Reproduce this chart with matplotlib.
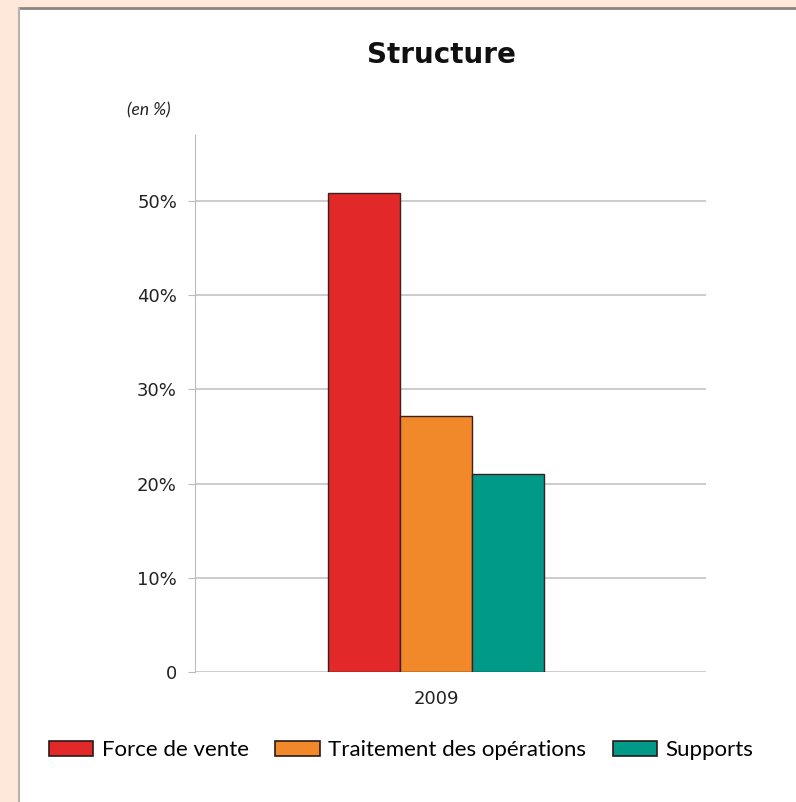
import matplotlib.pyplot as plt
from matplotlib.patches import Rectangle, Patch
from matplotlib.lines import Line2D

# données
categories = ['Force de vente', 'Traitement des opérations', 'Supports']
values = [50.8, 27.2, 21.0]
year_label = '2009'
yticks = [0, 10, 20, 30, 40, 50]
ytick_labels = ['0', '10%', '20%', '30%', '40%', '50%']
colors = ['#e3282a', '#f1882a', '#009b88']

plt.rcParams['font.family'] = ['DejaVu Sans']

W, H = 796, 802
fig = plt.figure(figsize=(W / 100, H / 100), dpi=100, facecolor='#fde8da')

# panneau blanc avec bord gris
fig.patches.append(Rectangle((19 / W, 0), 1, (H - 8) / H, transform=fig.transFigure,
                             facecolor='white', edgecolor='none', zorder=-10))
fig.lines.append(Line2D([19 / W, 1], [(H - 8) / H] * 2, transform=fig.transFigure,
                        color='#8c8682', lw=2, zorder=-5))
fig.lines.append(Line2D([19 / W] * 2, [0, (H - 8) / H], transform=fig.transFigure,
                        color='#b8b2ae', lw=1.5, zorder=-5))

ax = fig.add_axes([195 / W, (H - 672) / H, (706 - 195) / W, (672 - 135) / H])
ax.set_facecolor('none')

xs = [-1, 0, 1]
ax.bar(xs, values, width=1.0, color=colors, edgecolor='#3a2020', linewidth=1.0, zorder=3)

ax.set_xlim(-3.35, 3.75)
ax.set_ylim(0, 57)
ax.set_yticks(yticks)
ax.set_yticklabels(ytick_labels, fontsize=13, color='#222222')
ax.set_xticks([0])
ax.set_xticklabels([year_label], fontsize=13, color='#222222')
ax.tick_params(axis='x', length=0, pad=13)
ax.tick_params(axis='y', length=5, color='#bbbbbb', pad=8)
ax.grid(True, axis='y', color='#c4c4c4', linewidth=1.2, zorder=0)
for s in ['top', 'right', 'bottom']:
    ax.spines[s].set_visible(False)
ax.spines['left'].set_color('#bbbbbb')

fig.text(441 / W, 1 - 55 / H, 'Structure', ha='center', va='center',
         fontsize=20, fontweight='bold', color='#111111')
fig.text(149 / W, 1 - 110 / H, '(en %)', ha='center', va='center',
         fontsize=12.5, style='italic', color='#222222', family=['Lato', 'DejaVu Sans'])

handles = [Patch(facecolor=c, edgecolor='#2a1a1a', linewidth=1.2) for c in colors]
fig.legend(handles, categories, loc='center', bbox_to_anchor=(401 / W, 1 - 750 / H),
           ncol=3, frameon=False, prop={'family': 'Lato', 'size': 16},
           handlelength=2.0, handleheight=0.65,
           handletextpad=0.37, columnspacing=1.2)

plt.savefig('out.png', dpi=100, facecolor=fig.get_facecolor())
